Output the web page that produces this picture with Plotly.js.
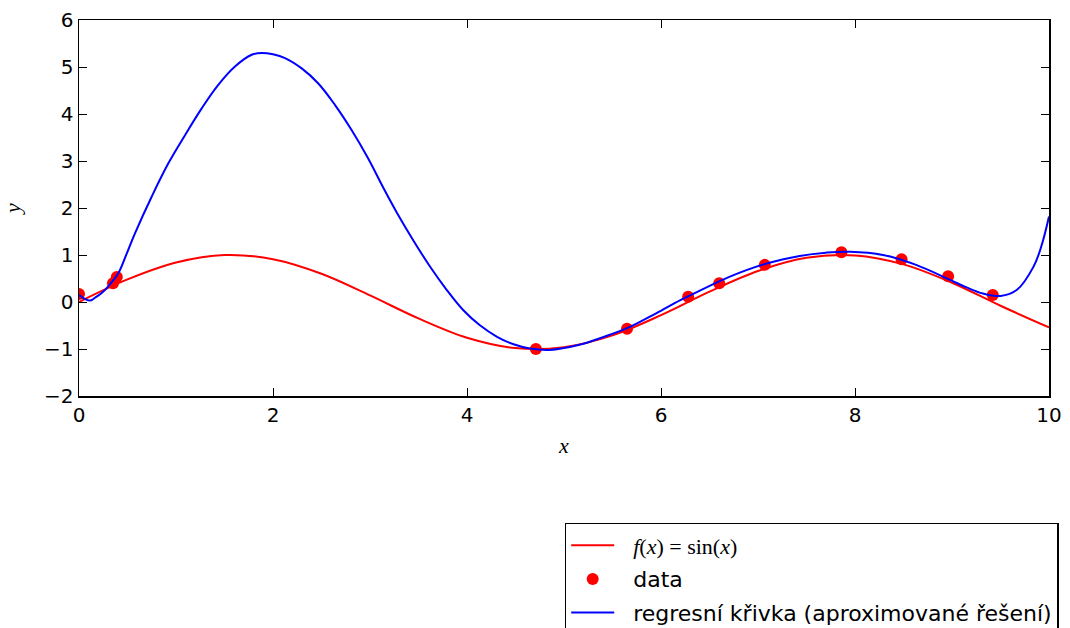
<!DOCTYPE html>
<html>
<head>
<meta charset="utf-8">
<script src="https://cdn.plot.ly/plotly-3.0.1.min.js"></script>
<style>
  html, body { margin: 0; padding: 0; background: #fff; }
  #plot { width: 1070px; height: 628px; }
</style>
</head>
<body>
<div id="plot"></div>
<script>
// f(x) = sin(x), sampled on [0, 10]
const sinX = [0, 0.5, 1, 1.5, 2, 2.5, 3, 3.5, 4, 4.5, 5, 5.5, 6, 6.5, 7, 7.5, 8, 8.5, 9, 9.5, 10];
const sinY = [0, 0.48, 0.84, 1.0, 0.91, 0.60, 0.14, -0.35, -0.76, -0.98, -0.96, -0.71, -0.28, 0.22, 0.66, 0.94, 0.99, 0.80, 0.41, -0.08, -0.54];

// measured data points
const dataX = [0, 0.35, 0.39, 4.71, 5.65, 6.28, 6.60, 7.07, 7.86, 8.48, 8.96, 9.42];
const dataY = [0.17, 0.40, 0.53, -1.0, -0.57, 0.11, 0.40, 0.79, 1.06, 0.91, 0.55, 0.15];

// regression curve
const fitX = [0, 0.11, 0.165, 0.24, 0.32, 0.405, 0.49, 0.577, 0.749, 0.921, 1.093, 1.265, 1.436, 1.608, 1.78, 1.883, 2.0, 2.124, 2.296, 2.467, 2.64, 2.81, 2.98, 3.14, 3.28, 3.45, 3.62, 3.79, 3.96, 4.13, 4.31, 4.48, 4.65, 4.85, 5.16, 5.40, 5.68, 5.95, 6.20, 6.40, 6.71, 7.09, 7.43, 7.70, 7.95, 8.29, 8.63, 8.98, 9.15, 9.32, 9.50, 9.67, 9.84, 9.92, 10.0];
const fitY = [0.15, 0.03, 0.09, 0.20, 0.38, 0.61, 1.02, 1.46, 2.24, 2.95, 3.55, 4.12, 4.62, 5.01, 5.26, 5.30, 5.27, 5.19, 4.97, 4.65, 4.19, 3.66, 3.06, 2.42, 1.89, 1.30, 0.75, 0.26, -0.17, -0.49, -0.74, -0.90, -0.99, -1.02, -0.91, -0.75, -0.53, -0.24, 0.04, 0.24, 0.54, 0.82, 0.98, 1.05, 1.07, 1.00, 0.79, 0.47, 0.31, 0.18, 0.13, 0.26, 0.75, 1.18, 1.82];

const xTicks = [0, 2, 4, 6, 8, 10];
const yTicks = [-2, -1, 0, 1, 2, 3, 4, 5, 6];

const serif = "'Liberation Serif', 'DejaVu Serif', serif";
const sans = "'DejaVu Sans', sans-serif";
const pad = '\u00a0\u00a0';

const traces = [
  {
    x: sinX, y: sinY, type: 'scatter', mode: 'lines',
    line: { color: '#ff0000', width: 2, shape: 'spline' },
    name: pad + '<span style="font-family:Liberation Serif, DejaVu Serif, serif"><i>f</i>(<i>x</i>) = sin(<i>x</i>)</span>',
    legendgroup: 'a'
  },
  {
    x: dataX, y: dataY, type: 'scatter', mode: 'markers',
    marker: { color: '#ff0000', size: 12 },
    name: pad + 'data',
    legendgroup: 'b'
  },
  {
    x: fitX, y: fitY, type: 'scatter', mode: 'lines',
    line: { color: '#0000ff', width: 2, shape: 'spline', smoothing: 1.1 },
    name: pad + 'regresní křivka (aproximované řešení)',
    legendgroup: 'c'
  }
];

const axisCommon = {
  showgrid: false, zeroline: false,
  showline: true, linecolor: '#000', linewidth: 1.5, mirror: 'ticks',
  ticks: 'inside', ticklen: 8, tickwidth: 1, tickcolor: '#000',
  tickfont: { family: sans, size: 20, color: '#000' }
};

const layout = {
  width: 1070, height: 628,
  margin: { l: 79, r: 21, t: 20, b: 232 },
  paper_bgcolor: '#fff', plot_bgcolor: '#fff',
  font: { family: sans, size: 20, color: '#000' },
  xaxis: Object.assign({}, axisCommon, {
    range: [0, 10], tickvals: xTicks, ticktext: xTicks.map(String),
    title: { text: '<i>x</i>', font: { family: serif, size: 22 }, standoff: 12 }
  }),
  yaxis: Object.assign({}, axisCommon, {
    range: [-2, 6], tickvals: yTicks, ticktext: yTicks.map(v => v < 0 ? '\u2212' + Math.abs(v) : String(v)),
    title: { text: '<i>y</i>', font: { family: serif, size: 22 }, standoff: 36 }
  }),
  showlegend: true,
  legend: {
    xref: 'paper', yref: 'container',
    x: 1.010, xanchor: 'right', y: 0.1672, yanchor: 'top',
    bgcolor: '#fff', bordercolor: '#000', borderwidth: 1.5,
    font: { family: sans, size: 22, color: '#000' },
    itemwidth: 43,
    traceorder: 'grouped', tracegroupgap: 2
  }
};

Plotly.newPlot('plot', traces, layout, { displayModeBar: false, staticPlot: true });
</script>
</body>
</html>
